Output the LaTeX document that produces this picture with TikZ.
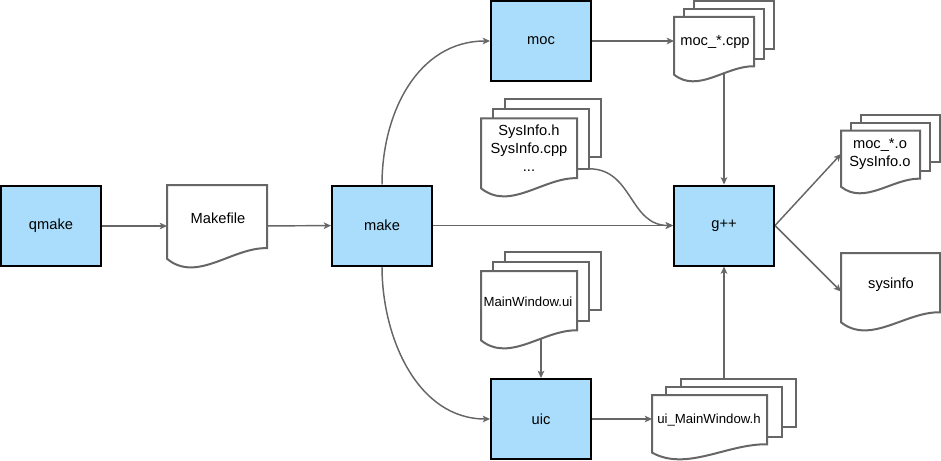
\documentclass[tikz,border=0pt]{standalone}
\usepackage{fontspec}
\setmainfont{Liberation Sans}
\usetikzlibrary{arrows.meta}
\pgfdeclarelayer{bg}
\pgfsetlayers{bg,main}
\definecolor{boxblue}{HTML}{A9DDFB}
\definecolor{edgegrey}{HTML}{666666}
\tikzset{
  procbox/.style={draw=black, line width=1.5pt, fill=boxblue, minimum width=75pt, minimum height=60pt, inner sep=0pt, font=\fontsize{11}{13.5}\selectfont},
  conn/.style={draw=edgegrey, line width=1.1pt, -{Stealth[length=5.5pt,width=5pt,inset=1.5pt]}},
  docline/.style={draw=edgegrey, line width=1.5pt, fill=white, line join=miter},
  area/.style={inner sep=0pt, outer sep=0pt, draw=none},
  lbl/.style={font=\fontsize{11}{13.5}\selectfont, align=center, inner sep=0pt},
  smalllbl/.style={font=\fontsize{9.9}{12}\selectfont, align=center, inner sep=0pt},
}
% one page with a wavy bottom: x y w h (pixel units)
\newcommand{\docpage}[4]{%
  \path[docline] ({#1},{#2}) -- ({#1+#3},{#2}) -- ({#1+#3},{#2+0.77*#4})
    .. controls ({#1+0.65*#3},{#2+0.76*#4}) and ({#1+0.3*#3},{#2+1.2*#4}) .. ({#1},{#2+0.9*#4}) -- cycle;}
% stack of three pages: x y W H
\newcommand{\multidoc}[4]{%
  \path[docline] ({#1+0.2*#3},{#2}) rectangle ({#1+#3},{#2+0.6*#4});
  \path[docline] ({#1+0.1*#3},{#2+0.1*#4}) rectangle ({#1+0.9*#3},{#2+0.72*#4});
  \docpage{#1}{#2+0.2*#4}{0.8*#3}{0.8*#4}}
\begin{document}
\begin{tikzpicture}[x=0.75pt,y=-0.75pt]
\useasboundingbox (0,0) rectangle (941,460);
% process boxes
\node[procbox] (qmake) at (51,226) {qmake};
\node[procbox] (make) at (382,225.5) {make};
\node[procbox] (moc) at (541,41) {moc};
\node[procbox] (uic) at (541,419) {uic};
\node[procbox] (gpp) at (724,225.5) {g++};
% document areas
\node[area, minimum width=75pt, minimum height=61.5pt] (mkf) at (217,226) {};
\node[area, minimum width=75pt, minimum height=60pt] (mocc) at (724,41) {};
\node[area, minimum width=90pt, minimum height=72.75pt] (sysi) at (541,147.5) {};
\node[area, minimum width=90pt, minimum height=72pt] (mwui) at (541,300) {};
\node[area, minimum width=108pt, minimum height=60pt] (uimw) at (724,419) {};
\node[area, minimum width=74.25pt, minimum height=58.5pt] (moco) at (890.5,154) {};
\node[area, minimum width=74.25pt, minimum height=57.75pt] (sysd) at (890.5,291.5) {};
\coordinate (sysiout) at (589,168.8);
% connectors
\begin{pgfonlayer}{bg}
\draw[conn] (qmake) -- (mkf);
\draw[conn] (mkf) -- (make);
\draw[conn] (make.north) .. controls +(0,-72) and +(-72,0) .. (moc.west);
\draw[conn] (make.south) .. controls +(0,72) and +(-72,0) .. (uic.west);
\draw[conn] (make) -- (gpp);
\draw[conn] (moc) -- (mocc);
\draw[conn] (mocc.center) -- (gpp.north);
\draw[conn] (sysiout) .. controls +(44,0) and +(-44,0) .. (gpp.west);
\draw[conn] (mwui.center) -- (uic.north);
\draw[conn] (uic) -- (uimw);
\draw[conn] (uimw.north) -- (gpp.south);
\draw[conn] (gpp.east) -- (moco.west);
\draw[conn] (gpp.east) -- (sysd.west);
\end{pgfonlayer}
% documents
\docpage{167}{185}{100}{82}
\multidoc{674}{1}{100}{80}
\multidoc{481}{99}{120}{97}
\multidoc{481}{252}{120}{96}
\multidoc{652}{379}{144}{80}
\multidoc{841}{115}{99}{78}
\docpage{841}{253}{99}{77}
% labels
\node[lbl] (tmkf) at (218,218) {Makefile};
\node[lbl] (tmocc) at (715,42) {moc\_*.cpp};
\node[lbl] (tsysi) at (529,148) {SysInfo.h\\SysInfo.cpp\\...};
\node[smalllbl] (tmwui) at (528,302) {MainWindow.ui};
\node[smalllbl] (tuimw) at (709,420) {ui\_MainWindow.h};
\node[lbl] (tmoco) at (880,154) {moc\_*.o\\SysInfo.o};
\node[lbl] (tsysd) at (891,285) {sysinfo};
\end{tikzpicture}
\end{document}
